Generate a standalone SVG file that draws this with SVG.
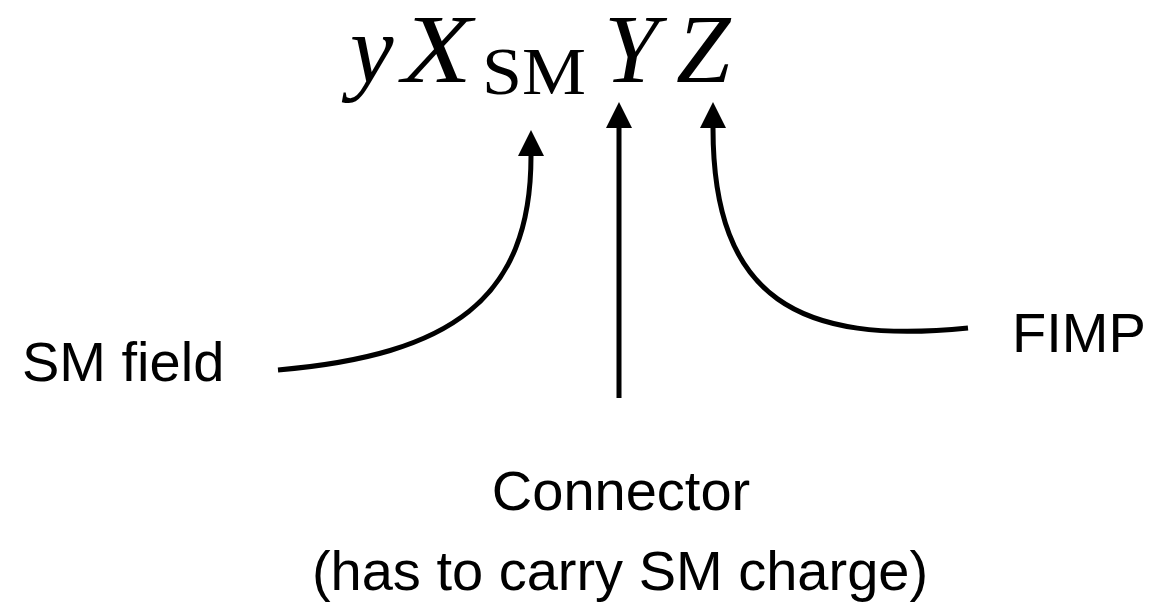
<svg xmlns="http://www.w3.org/2000/svg" width="1149" height="612" viewBox="0 0 1149 612">
<style>
.m{font-family:"Liberation Serif","DejaVu Serif",serif;fill:#000}
.mi{font-style:italic;font-size:98px}
.h{font-family:"Liberation Sans","DejaVu Sans",sans-serif;font-size:56px;fill:#000}
.c{fill:none;stroke:#000;stroke-width:5;stroke-linecap:butt}
</style>
<defs>
<marker id="ah" viewBox="0 0 10 10" refX="0" refY="5" markerWidth="5.2" markerHeight="5.2" orient="auto" markerUnits="strokeWidth">
<path d="M0,0 L10,5 L0,10 z" fill="#000"/>
</marker>
</defs>
<rect width="1149" height="612" fill="#fff"/>
<g id="formula">
<text class="m mi" x="350" y="82">y</text>
<text class="m mi" x="402" y="82" textLength="70" lengthAdjust="spacingAndGlyphs">X</text>
<text class="m" x="482" y="94" font-size="68" textLength="104" lengthAdjust="spacingAndGlyphs">SM</text>
<text class="m mi" x="604" y="82">Y</text>
<text class="m mi" x="676" y="82">Z</text>
</g>
<g id="sm-field"><text class="h" x="22" y="381" font-size="58">SM field</text></g>
<g id="fimp"><text class="h" x="1012" y="352">FIMP</text></g>
<g id="connector-label">
<text class="h" x="621" y="510" text-anchor="middle">Connector</text>
<text class="h" x="620" y="590" text-anchor="middle">(has to carry SM charge)</text>
</g>
<g id="connectors">
<path class="c" d="M278,370 C450,355 531,300 531,156" marker-end="url(#ah)"/>
<path class="c" d="M619,398 L619,128" marker-end="url(#ah)"/>
<path class="c" d="M968,328 C800,345 713,300 713,128" marker-end="url(#ah)"/>
</g>
</svg>
